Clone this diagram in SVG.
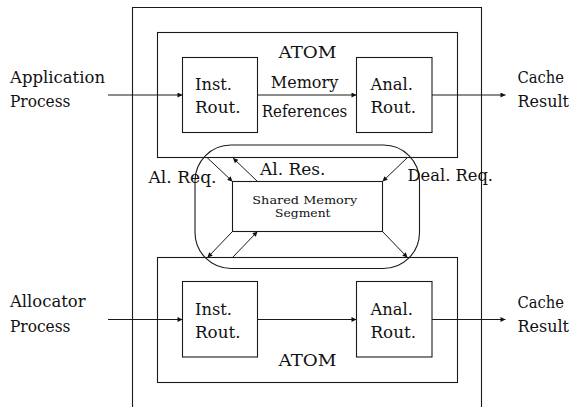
<svg xmlns="http://www.w3.org/2000/svg" width="570" height="407" viewBox="0 0 570 407">
<defs>
<style>
.b{fill:none;stroke:#1a1a1a;stroke-width:1.1}
.t{font-family:"DejaVu Serif","Liberation Serif",serif;font-size:16px;fill:#111}
.s{font-family:"DejaVu Serif","Liberation Serif",serif;font-size:11.5px;fill:#111}
.c{fill:none;stroke:#1a1a1a;stroke-width:1}
</style>
<marker id="ah" viewBox="0 0 10 10" refX="10" refY="5" markerWidth="7" markerHeight="5" markerUnits="userSpaceOnUse" orient="auto">
<path d="M0,0 L10,5 L0,10 z" fill="#111"/>
</marker>
</defs>
<rect width="570" height="407" fill="#fff"/>
<g id="system">
<path class="b" d="M132.5,408 V7.5 H481.5 V408"/>
</g>
<g id="atom-top">
<rect class="b" x="157.5" y="32.5" width="300" height="125"/>
<text class="t" x="307.5" y="58" text-anchor="middle" textLength="58" lengthAdjust="spacingAndGlyphs">ATOM</text>
</g>
<g id="inst-top">
<rect class="b" x="182.5" y="57.5" width="75" height="75"/>
<text class="t" x="195" y="90" textLength="37" lengthAdjust="spacingAndGlyphs">Inst.</text>
<text class="t" x="195" y="113" textLength="45.5" lengthAdjust="spacingAndGlyphs">Rout.</text>
</g>
<g id="anal-top">
<rect class="b" x="356.5" y="57.5" width="75.5" height="75"/>
<text class="t" x="370.5" y="90" textLength="42.5" lengthAdjust="spacingAndGlyphs">Anal.</text>
<text class="t" x="370.5" y="113" textLength="45.5" lengthAdjust="spacingAndGlyphs">Rout.</text>
</g>
<g id="shared">
<rect class="b" x="195" y="145" width="224.5" height="123.5" rx="36" ry="36"/>
<rect class="b" x="232.5" y="181.5" width="150" height="50"/>
<text class="s" x="304.8" y="204" text-anchor="middle" textLength="105" lengthAdjust="spacingAndGlyphs">Shared Memory</text>
<text class="s" x="302.8" y="216.5" text-anchor="middle" textLength="55.5" lengthAdjust="spacingAndGlyphs">Segment</text>
</g>
<g id="atom-bottom">
<rect class="b" x="157.5" y="257.5" width="300" height="125"/>
<text class="t" x="307.5" y="365.5" text-anchor="middle" textLength="58" lengthAdjust="spacingAndGlyphs">ATOM</text>
</g>
<g id="inst-bottom">
<rect class="b" x="182.5" y="281.5" width="75" height="75.5"/>
<text class="t" x="195" y="315" textLength="37" lengthAdjust="spacingAndGlyphs">Inst.</text>
<text class="t" x="195" y="338" textLength="45.5" lengthAdjust="spacingAndGlyphs">Rout.</text>
</g>
<g id="anal-bottom">
<rect class="b" x="356.5" y="281.5" width="75.5" height="75.5"/>
<text class="t" x="370.5" y="315" textLength="42.5" lengthAdjust="spacingAndGlyphs">Anal.</text>
<text class="t" x="370.5" y="338" textLength="45.5" lengthAdjust="spacingAndGlyphs">Rout.</text>
</g>
<g id="labels">
<text class="t" x="10" y="82.5" textLength="95" lengthAdjust="spacingAndGlyphs">Application</text>
<text class="t" x="10" y="107" textLength="60.5" lengthAdjust="spacingAndGlyphs">Process</text>
<text class="t" x="517.5" y="83" textLength="46.5" lengthAdjust="spacingAndGlyphs">Cache</text>
<text class="t" x="517.5" y="107" textLength="51.5" lengthAdjust="spacingAndGlyphs">Result</text>
<text class="t" x="10" y="307" textLength="75.5" lengthAdjust="spacingAndGlyphs">Allocator</text>
<text class="t" x="10" y="332" textLength="60.5" lengthAdjust="spacingAndGlyphs">Process</text>
<text class="t" x="517.5" y="307.5" textLength="46.5" lengthAdjust="spacingAndGlyphs">Cache</text>
<text class="t" x="517.5" y="332" textLength="51.5" lengthAdjust="spacingAndGlyphs">Result</text>
<text class="t" x="304.5" y="87.5" text-anchor="middle" textLength="67.5" lengthAdjust="spacingAndGlyphs">Memory</text>
<text class="t" x="304.5" y="117" text-anchor="middle" textLength="85.5" lengthAdjust="spacingAndGlyphs">References</text>
<text class="t" x="148.5" y="182.5" textLength="68" lengthAdjust="spacingAndGlyphs">Al. Req.</text>
<text class="t" x="260" y="175" textLength="65.5" lengthAdjust="spacingAndGlyphs">Al. Res.</text>
<text class="t" x="407.5" y="180.5" textLength="85.5" lengthAdjust="spacingAndGlyphs">Deal. Req.</text>
</g>
<g id="connectors">
<line class="c" x1="108" y1="95" x2="182.5" y2="95" marker-end="url(#ah)"/>
<line class="c" x1="257.5" y1="95" x2="356.5" y2="95" marker-end="url(#ah)"/>
<line class="c" x1="432" y1="95" x2="505.5" y2="95" marker-end="url(#ah)"/>
<line class="c" x1="108" y1="319.5" x2="182.5" y2="319.5" marker-end="url(#ah)"/>
<line class="c" x1="257.5" y1="319.5" x2="356.5" y2="319.5" marker-end="url(#ah)"/>
<line class="c" x1="432" y1="319.5" x2="505.5" y2="319.5" marker-end="url(#ah)"/>
<line class="c" x1="207" y1="157.5" x2="232.5" y2="181.5" marker-end="url(#ah)"/>
<line class="c" x1="257.5" y1="181.5" x2="233" y2="158" marker-end="url(#ah)"/>
<line class="c" x1="407.5" y1="157.5" x2="382.5" y2="181.5" marker-end="url(#ah)"/>
<line class="c" x1="232.5" y1="231.5" x2="207.5" y2="257.5" marker-end="url(#ah)"/>
<line class="c" x1="232.5" y1="257.5" x2="257.5" y2="231.5" marker-end="url(#ah)"/>
<line class="c" x1="382.5" y1="231.5" x2="407.5" y2="257.5" marker-end="url(#ah)"/>
</g>
</svg>
